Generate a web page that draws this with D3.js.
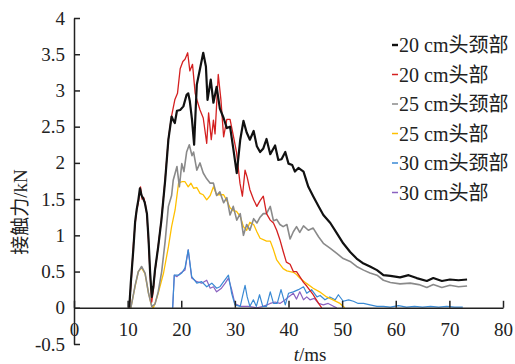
<!DOCTYPE html>
<html>
<head>
<meta charset="utf-8">
<script src="https://cdn.jsdelivr.net/npm/d3@7"></script>
<style>
  body { margin: 0; background: #fff; }
  svg { display: block; }
</style>
</head>
<body>
<div id="chart"></div>
<script>
// contact force (kN) against time (ms)
const neck20 = [[10.3,0],[10.6,0.35],[11.1,0.84],[11.4,1.19],[11.7,1.36],[12.0,1.49],[12.3,1.65],[12.6,1.55],[12.9,1.51],[13.2,1.45],[13.6,1.30],[13.9,0.95],[14.2,0.48],[14.5,0.15],[14.8,0.29],[15.1,0.52],[15.7,0.84],[16.3,1.21],[17.0,1.76],[17.6,2.32],[18.2,2.64],[18.5,2.59],[18.8,2.55],[19.2,2.72],[19.8,2.73],[20.4,2.78],[21.0,2.94],[21.3,2.96],[21.6,2.85],[22.0,2.6],[22.4,2.25],[22.9,3.08],[23.5,3.3],[24.1,3.52],[24.6,3.33],[24.9,2.87],[25.5,3.15],[26.0,2.83],[26.6,3.05],[27.2,2.75],[27.9,2.62],[28.5,2.48],[29.1,2.50],[29.7,2.2],[30.35,1.86],[31.0,2.32],[31.6,2.58],[32.2,2.42],[32.8,2.32],[33.5,2.44],[34.1,2.23],[34.7,2.15],[35.3,2.2],[35.9,2.33],[36.6,2.12],[37.5,2.24],[38.1,2.04],[38.7,2.05],[39.4,2.15],[40.0,1.99],[40.7,1.97],[41.2,1.88],[41.85,1.93],[42.8,1.88],[43.7,1.67],[44.6,1.54],[45.6,1.40],[46.5,1.28],[47.8,1.17],[49.0,1.03],[50.2,0.89],[51.5,0.77],[52.7,0.68],[54.0,0.61],[55.2,0.57],[56.5,0.52],[57.7,0.45],[59.0,0.44],[60.8,0.42],[62.4,0.45],[63.9,0.41],[65.8,0.37],[67.0,0.41],[68.6,0.37],[70.1,0.39],[71.7,0.38],[73.3,0.39]];
const head20 = [[10.3,0],[10.7,0.4],[11.1,0.9],[11.4,1.15],[11.7,1.36],[12.0,1.45],[12.4,1.67],[12.7,1.5],[13.0,1.52],[13.3,1.43],[13.6,1.28],[13.9,0.9],[14.2,0.45],[14.5,0.08],[14.8,0.25],[15.1,0.5],[15.7,0.85],[16.3,1.22],[17.0,1.78],[17.6,2.33],[18.2,2.65],[18.8,2.87],[19.3,2.96],[19.8,3.3],[20.3,3.40],[20.7,3.43],[21.2,3.52],[21.6,3.27],[22.1,3.36],[22.6,2.96],[23.0,2.85],[23.5,2.73],[24.1,2.62],[24.75,2.27],[25.1,2.69],[25.6,2.32],[26.0,2.59],[26.3,2.4],[26.9,3.22],[27.4,2.87],[27.9,2.36],[28.5,2.6],[29.1,2.6],[29.7,2.38],[30.3,2.15],[30.95,1.72],[31.4,1.54],[31.9,1.9],[32.3,1.8],[32.8,1.63],[33.5,1.49],[34.1,1.40],[34.7,1.48],[35.3,1.54],[35.9,1.30],[36.6,1.21],[37.2,1.17],[37.8,1.07],[38.4,0.94],[39.0,0.78],[39.6,0.63],[40.3,0.6],[40.9,0.5],[41.5,0.5],[42.2,0.42],[42.8,0.35],[43.4,0.3],[44.0,0.24],[44.6,0.18],[45.2,0.11],[45.7,0.05],[46.2,0]];
const neck25 = [[10.6,0],[11.0,0.15],[11.4,0.31],[12.0,0.5],[12.6,0.57],[13.25,0.48],[13.9,0.2],[14.5,0.02],[15.1,0.05],[15.7,0.22],[16.35,0.5],[17.0,0.92],[17.6,1.4],[18.2,1.55],[18.5,1.76],[19.2,1.95],[19.65,1.67],[20.1,1.99],[20.5,1.88],[21.0,2.15],[21.5,2.25],[22.0,2.1],[22.3,2.15],[22.9,1.9],[23.5,2.0],[24.1,1.86],[24.75,1.78],[25.4,1.72],[26.0,1.72],[26.6,1.55],[27.2,1.6],[27.9,1.45],[28.5,1.52],[29.1,1.28],[29.7,1.4],[30.35,1.21],[31.0,1.3],[31.6,1.0],[32.2,1.15],[32.8,1.07],[33.5,1.23],[34.1,1.17],[34.7,1.25],[35.3,1.3],[35.9,1.3],[36.6,1.40],[37.2,1.2],[37.8,1.22],[38.4,1.15],[39.0,1.12],[39.7,1.15],[40.3,0.95],[40.9,1.05],[41.5,1.12],[42.1,1.04],[42.8,1.13],[43.7,1.07],[44.6,1.10],[45.6,0.98],[46.5,0.89],[47.8,0.82],[49.0,0.75],[50.2,0.68],[51.5,0.64],[52.7,0.57],[54.0,0.52],[55.2,0.48],[56.5,0.45],[57.7,0.38],[59.0,0.35],[60.8,0.33],[62.7,0.34],[64.3,0.32],[65.8,0.28],[67.0,0.32],[68.6,0.28],[70.1,0.31],[71.7,0.29],[73.3,0.30]];
const head25 = [[10.6,0],[11.0,0.15],[11.4,0.3],[12.0,0.5],[12.6,0.55],[13.25,0.47],[13.9,0.2],[14.5,0.02],[14.8,0],[15.2,0.08],[15.7,0.2],[16.7,0.48],[17.6,0.84],[18.2,1.12],[18.85,1.35],[19.5,1.72],[20.1,1.74],[20.7,1.74],[21.3,1.67],[21.8,1.72],[22.3,1.65],[22.9,1.66],[23.5,1.58],[24.1,1.56],[24.75,1.49],[25.4,1.55],[26.0,1.67],[26.6,1.56],[27.2,1.56],[27.9,1.56],[28.5,1.48],[29.1,1.38],[29.7,1.34],[30.3,1.33],[31.0,1.26],[31.6,1.12],[32.2,1.07],[32.8,1.18],[33.5,1.15],[34.1,1.05],[34.7,0.96],[35.3,0.94],[35.9,0.92],[36.6,0.92],[37.2,0.8],[37.8,0.66],[38.4,0.6],[39.0,0.54],[39.7,0.51],[40.3,0.5],[40.9,0.49],[41.5,0.46],[42.1,0.41],[43.3,0.34],[44.6,0.27],[45.8,0.22],[47.1,0.15],[48.3,0.11],[49.6,0.06],[50.5,0]];
const neck30 = [[18.4,0],[18.7,0.45],[19.5,0.45],[20.1,0.48],[20.7,0.55],[21.3,0.8],[21.95,0.43],[22.9,0.34],[23.8,0.36],[24.75,0.29],[25.7,0.34],[26.6,0.27],[27.2,0.29],[27.9,0.36],[28.8,0.45],[29.4,0.2],[30.0,0.04],[31.0,0.02],[31.4,0.15],[31.9,0.31],[32.3,0.15],[32.8,0.02],[33.45,0.11],[34.0,0.02],[34.6,0.18],[35.2,0.02],[35.9,0.02],[36.6,0.22],[37.2,0.06],[37.9,0.06],[38.6,0.25],[39.4,0.04],[40.0,0.2],[40.9,0.22],[41.85,0.25],[42.8,0.29],[43.4,0.2],[44.3,0.25],[45.3,0.15],[45.9,0.17],[46.8,0.11],[47.7,0.15],[48.7,0.11],[49.3,0.18],[50.2,0.09],[51.2,0.11],[52.1,0.09],[53.0,0.06],[54.0,0.06],[55.2,0.04],[56.5,0.02],[57.7,0.02],[59.0,0.01],[60.5,0.03],[62,0.01],[63.5,0.02],[65,0.01],[66.5,0.02],[68,0.01],[69.5,0.02],[71,0.01],[72.5,0.01]];
const head30 = [[18.4,0],[18.7,0.45],[19.2,0.43],[19.9,0.48],[20.7,0.52],[21.3,0.8],[21.95,0.41],[22.9,0.36],[23.8,0.34],[24.75,0.38],[25.4,0.27],[26.0,0.29],[26.6,0.22],[27.5,0.27],[28.2,0.34],[28.8,0.41],[29.4,0.25],[30.0,0.06],[31.0,0.02],[32.5,0.02],[34.1,0],[35.3,0.02],[36.6,0.06],[37.5,0.08],[38.4,0.06],[39.4,0.11],[40.0,0.15],[40.9,0.2],[41.5,0.12],[42.1,0.22],[42.8,0.11],[43.4,0.15],[44.0,0.11],[44.8,0.13],[45.6,0.06],[46.5,0.04],[47.4,0.06],[48.4,0.02],[49.0,0]];

const seriesLabels = ['20 cm头颈部', '20 cm头部', '25 cm头颈部', '25 cm头部', '30 cm头颈部', '30 cm头部'];
const seriesData = [neck20, head20, neck25, head25, neck30, head30];
const yTicks = [-0.5, 0, 0.5, 1, 1.5, 2, 2.5, 3, 3.5, 4];
const xTicks = [0, 10, 20, 30, 40, 50, 60, 70, 80];

const WIDTH = 515;
const HEIGHT = 364;
const colors = ['#111111', '#d42020', '#8a8a8a', '#ffc000', '#3a8ad4', '#8a62c0'];
const widths = [2.2, 1.3, 1.6, 1.3, 1.2, 1.2];
const FONT = '"Liberation Serif", "Times New Roman", "Noto Sans CJK SC", serif';

const svg = d3.select('#chart').append('svg')
    .attr('width', WIDTH)
    .attr('height', HEIGHT);

const x = d3.scaleLinear().domain([0, 80]).range([74, 503]);
const y = d3.scaleLinear().domain([-0.5, 4]).range([344, 18]);

// series lines, drawn back to front so the black one ends on top
const line = d3.line().x((d) => x(d[0])).y((d) => y(d[1]));
const drawOrder = [5, 4, 3, 2, 1, 0];
svg.append('g').selectAll('path')
    .data(drawOrder)
    .enter()
    .append('path')
    .attr('d', (i) => line(seriesData[i]))
    .attr('fill', 'none')
    .attr('stroke', (i) => colors[i])
    .attr('stroke-width', (i) => widths[i])
    .attr('stroke-linejoin', 'round');

// axes
const yAxis = d3.axisLeft(y)
    .tickValues(yTicks)
    .tickFormat((d) => String(d))
    .tickSizeInner(-6)
    .tickSizeOuter(0)
    .tickPadding(9);
const xAxis = d3.axisBottom(x)
    .tickValues(xTicks)
    .tickFormat((d) => String(d))
    .tickSizeInner(-7)
    .tickSizeOuter(0)
    .tickPadding(15);

const gx = svg.append('g')
    .attr('transform', 'translate(0,' + y(0) + ')')
    .call(xAxis);
const gy = svg.append('g')
    .attr('transform', 'translate(' + x(0) + ',0)')
    .call(yAxis);
[gx, gy].forEach((g) => {
  g.selectAll('path, line').attr('stroke', '#222').attr('stroke-width', 1.5);
  g.selectAll('text')
      .attr('fill', '#222')
      .style('font-family', FONT)
      .style('font-size', '19px');
});

// axis titles
svg.append('text')
    .attr('transform', 'translate(27,212) rotate(-90)')
    .attr('text-anchor', 'middle')
    .style('font-family', FONT)
    .style('font-size', '19px')
    .attr('fill', '#222')
    .text('接触力/kN');
const xTitle = svg.append('text')
    .attr('x', 310)
    .attr('y', 361)
    .attr('text-anchor', 'middle')
    .style('font-family', FONT)
    .style('font-size', '19px')
    .attr('fill', '#222');
xTitle.append('tspan').style('font-style', 'italic').text('t');
xTitle.append('tspan').text('/ms');

// legend
const legend = svg.append('g')
    .selectAll('g')
    .data(seriesLabels)
    .enter()
    .append('g')
    .attr('transform', (d, i) => 'translate(392,' + (45 + i * 29.5) + ')');
legend.append('line')
    .attr('x1', 0)
    .attr('x2', 6)
    .attr('stroke', (d, i) => colors[i])
    .attr('stroke-width', (d, i) => (i == 0 ? 2.4 : 1.5));
legend.append('text')
    .attr('x', 7)
    .attr('dy', '0.35em')
    .style('font-family', FONT)
    .style('font-size', '20px')
    .attr('fill', '#222')
    .text((d) => d);
</script>
</body>
</html>
